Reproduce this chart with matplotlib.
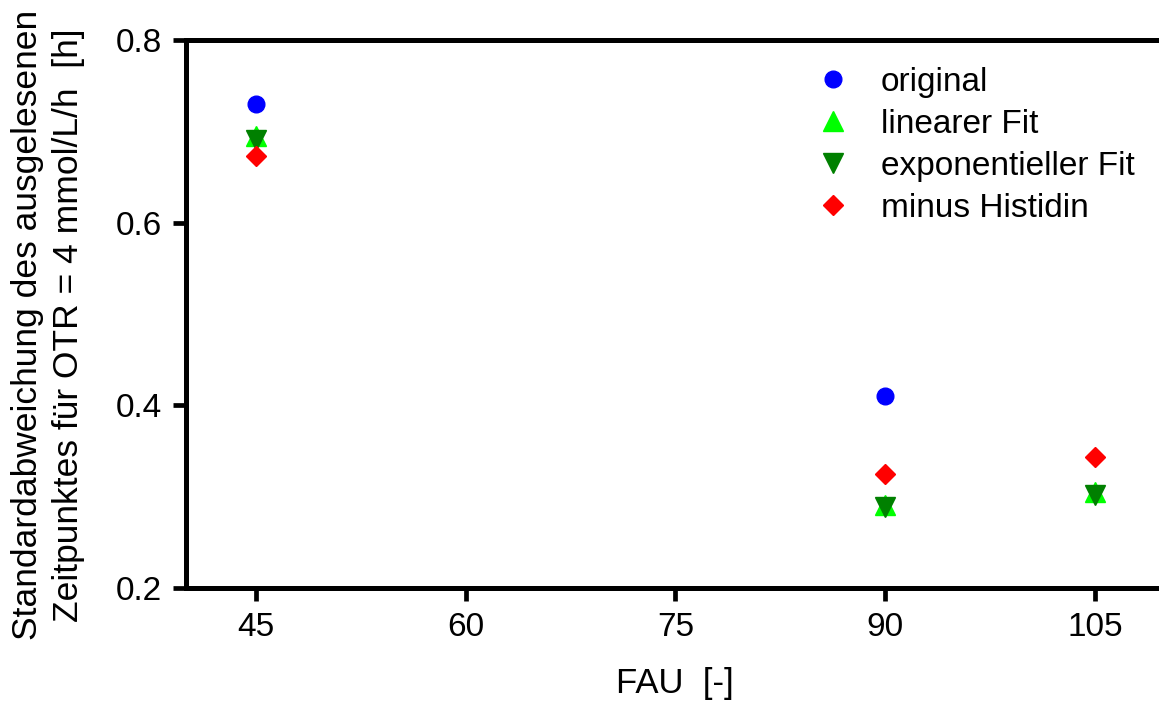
import matplotlib
matplotlib.use("Agg")
import matplotlib.pyplot as plt

plt.rcParams['font.family'] = ['Liberation Sans', 'DejaVu Sans']

# FAU levels and standard deviations of the read-off time point
fau = [45, 90, 105]
original = [0.730, 0.410, None]
linear_fit = [0.695, 0.291, 0.305]
exp_fit = [0.690, 0.289, 0.302]
minus_histidin = [0.673, 0.325, 0.343]

series_labels = ["original", "linearer Fit", "exponentieller Fit", "minus Histidin"]
x_ticks = [45, 60, 75, 90, 105]
y_ticks = [0.2, 0.4, 0.6, 0.8]

W, H = 1159, 704
fig = plt.figure(figsize=(W / 100, H / 100), dpi=100)
left, right, top, bottom = 186, 1165, 40, 588
ax = fig.add_axes([left / W, 1 - bottom / H, (right - left) / W, (bottom - top) / H])


def pts(xs, ys):
    pairs = [(x, y) for x, y in zip(xs, ys) if y is not None]
    return [p[0] for p in pairs], [p[1] for p in pairs]


x, y = pts(fau, original)
ax.plot(x, y, linestyle='none', marker='o', ms=12, color='#0000FF', label=series_labels[0])
x, y = pts(fau, linear_fit)
ax.plot(x, y, linestyle='none', marker='^', ms=14, color='#00FF00', label=series_labels[1])
x, y = pts(fau, exp_fit)
ax.plot(x, y, linestyle='none', marker='v', ms=14, color='#008000', label=series_labels[2])
x, y = pts(fau, minus_histidin)
ax.plot(x, y, linestyle='none', marker='D', ms=10.5, color='#FF0000', label=series_labels[3])

ax.set_xlim(40, 110)
ax.set_ylim(0.2, 0.8)
ax.set_xticks(x_ticks)
ax.set_yticks(y_ticks)
ax.set_xticklabels([str(v) for v in x_ticks])
ax.set_yticklabels([f"{v:.1f}" for v in y_ticks])

for side in ['left', 'top', 'bottom']:
    ax.spines[side].set_linewidth(3.6)
    ax.spines[side].set_capstyle('projecting')
ax.spines['right'].set_visible(False)
ax.tick_params(axis='both', direction='out', length=9.5, width=3.4,
               labelsize=24, pad=8, color='black')

fig.text(675 / W, 1 - 683 / H, "FAU  [-]", ha='center', va='center', fontsize=25)
fig.text(48 / W, 1 - 325 / H,
         "Standardabweichung des ausgelesenen\nZeitpunktes für OTR = 4 mmol/L/h  [h]",
         rotation=90, ha='center', va='center', fontsize=25.5,
         multialignment='center', linespacing=1.27)

leg = ax.legend(loc='upper left', bbox_to_anchor=(816 / W, 1 - 67 / H),
                bbox_transform=fig.transFigure, frameon=False, fontsize=24,
                handlelength=1.0, handletextpad=0.95, labelspacing=0.33,
                borderaxespad=0, borderpad=0)

fig.savefig("out.png", dpi=100)
